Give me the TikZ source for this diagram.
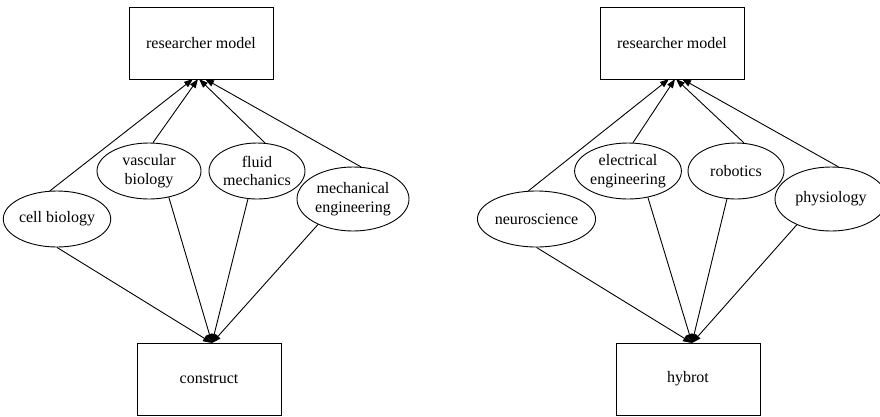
\documentclass[tikz,border=0pt]{standalone}
\usepackage{fontspec}
\setmainfont{Liberation Serif}
\usetikzlibrary{shapes.geometric}
\usetikzlibrary{arrows.meta}

\begin{document}
\begin{tikzpicture}[x=1pt,y=-1pt,
        font=\fontsize{16}{18.7}\selectfont,
        box/.style={draw,line width=0.9pt,minimum width=144pt,minimum height=72pt,inner sep=0pt},
        field/.style={draw,ellipse,line width=0.9pt,inner sep=0pt,align=center},
        link/.style={line width=0.9pt,-{Triangle[length=9pt,width=6.5pt]}}]
            \useasboundingbox (0,0) rectangle (880,416);
            %%% NODES (LEFT) %%%
            \node[box] (modelA) at (201,43) {researcher model};
            \node[box] (construct) at (209,379) {construct};
            \node[field,minimum width=96pt,minimum height=56pt] (cell) at (57,219) {cell biology};
            \node[field,minimum width=104pt,minimum height=56pt] (vasc) at (149,171) {vascular\\biology};
            \node[field,minimum width=96pt,minimum height=56pt] (fluid) at (257,171) {fluid\\mechanics};
            \node[field,minimum width=112pt,minimum height=64pt] (mech) at (353,199) {mechanical\\engineering};
            
            %%% NODES (RIGHT) %%%
            \node[box] (modelB) at (672,43) {researcher model};
            \node[box] (hybrot) at (688,379) {hybrot};
            \node[field,minimum width=96pt,minimum height=56pt] (neuro) at (536.5,219) {neuroscience};
            \node[field,minimum width=104pt,minimum height=56pt] (elec) at (628,171) {electrical\\engineering};
            \node[field,minimum width=96pt,minimum height=56pt] (robo) at (736,171) {robotics};
            \node[field,minimum width=112pt,minimum height=64pt] (phys) at (831,199) {physiology};
            
            %%% COORDINATES %%%
            \coordinate (a1) at (193,79);
            \coordinate (a2) at (198,79);
            \coordinate (a3) at (199,79);
            \coordinate (a4) at (205,79);
            \coordinate (c0) at (212,343);
            \coordinate (b1) at (669,79);
            \coordinate (b2) at (675,79);
            \coordinate (b3) at (676,79);
            \coordinate (b4) at (682,79);
            \coordinate (h0) at (692,343);
            
            %%% EDGES (LEFT) %%%
            \draw[link] (cell.104) -- (a1);
            \draw[link] (vasc.82) -- (a2);
            \draw[link] (fluid.74) -- (a3);
            \draw[link] (mech.76) -- (a4);
            \draw[link] (cell.south) -- (c0);
            \draw[link] (vasc.-53) -- (c0);
            \draw[link] (fluid.-108) -- (c0);
            \draw[link] (mech.-144) -- (c0);
            
            %%% EDGES (RIGHT) %%%
            \draw[link] (neuro.106) -- (b1);
            \draw[link] (elec.80) -- (b2);
            \draw[link] (robo.74) -- (b3);
            \draw[link] (phys.77) -- (b4);
            \draw[link] (neuro.south) -- (h0);
            \draw[link] (elec.-53) -- (h0);
            \draw[link] (robo.-108) -- (h0);
            \draw[link] (phys.-143) -- (h0);
        \end{tikzpicture}
\end{document}
